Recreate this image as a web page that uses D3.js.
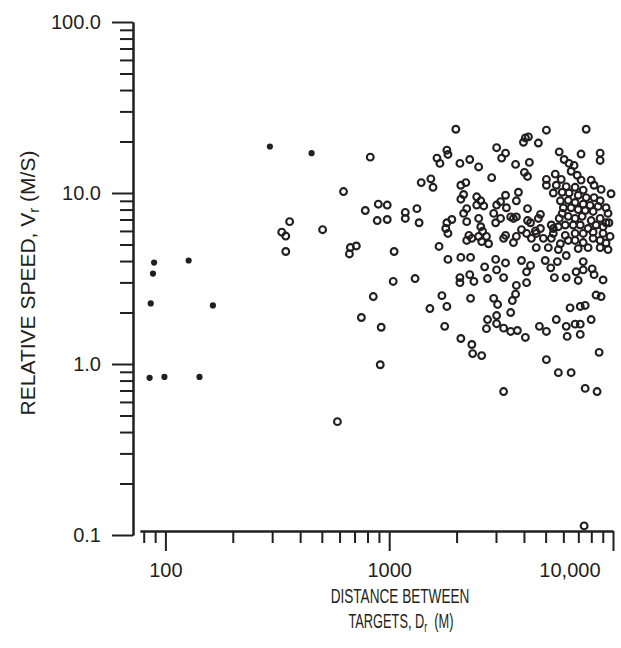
<!doctype html>
<html>
<head>
<meta charset="utf-8">
<title>Relative speed vs distance</title>
<script src="https://d3js.org/d3.v7.min.js"></script>
<style>
  body { margin: 0; background: #fff; }
  svg text { font-family: "Liberation Sans", Arial, sans-serif; fill: #231f20; }
</style>
</head>
<body>
<div id="chart"></div>
<script>
// distance between targets (m), relative speed (m/s)
// closed dots: short-range pairs
const closedPoints = [
  [85, 0.83], [99, 0.84], [142, 0.84], [86, 2.26], [88, 3.38], [89, 3.92],
  [127, 4.03], [163, 2.2], [293, 18.7], [450, 17.1]
];

// open circles, read left to right, top to bottom
const openNear = [
  [359, 6.8], [331, 5.9], [345, 5.6], [345, 4.55], [504, 6.1], [823, 16.2],
  [625, 10.2], [782, 7.9], [894, 8.6], [980, 8.5], [884, 6.9], [980, 7.0],
  [671, 4.8], [713, 4.9], [664, 4.4], [1052, 4.55], [1042, 3.04], [849, 2.48],
  [751, 1.87], [921, 1.64], [912, 0.99], [587, 0.46]
];

const openMidUpper = [
  [1985, 23.6], [3020, 18.4], [3310, 17.1], [3180, 16.0], [1810, 17.8], [1830, 16.8],
  [1635, 16.0], [1685, 14.9], [2070, 14.9], [2290, 15.7], [2510, 14.2], [2870, 12.3],
  [1390, 11.5], [1535, 12.1], [1570, 10.8], [2090, 11.1], [2200, 11.5], [2150, 9.8],
  [2090, 9.2], [2460, 9.5], [2565, 9.0], [2645, 8.4], [2460, 8.5], [3020, 8.5],
  [3145, 8.9], [3310, 9.7], [2220, 8.1], [2150, 7.6], [2220, 6.8], [2510, 7.1],
  [2930, 7.6], [3145, 7.1], [2990, 6.7], [1330, 8.1], [1180, 7.7], [1180, 7.1],
  [1360, 6.7], [1905, 7.0], [1810, 6.7], [1790, 6.2], [1830, 5.8], [2565, 6.35],
  [2615, 5.97], [2270, 5.65], [2340, 5.43], [2220, 5.28], [2510, 5.57], [2720, 5.57],
  [2590, 5.2], [2780, 5.05], [3245, 5.43], [3310, 5.65], [1670, 4.87]
];

const openFarUpper = [
  [5040, 23.3], [7590, 23.6], [4060, 21.0], [4190, 21.3], [3980, 19.8], [4640, 19.6],
  [5750, 17.4], [7200, 16.9], [8760, 17.1], [8760, 15.5], [3670, 14.7], [4230, 15.1],
  [4020, 13.2], [4150, 12.5], [6050, 15.7], [6360, 14.9], [6700, 14.5], [6500, 13.4],
  [6920, 12.7], [7200, 11.9], [5040, 12.0], [5520, 12.9], [5870, 12.0], [5040, 11.1],
  [5580, 11.1], [6180, 10.9], [6770, 10.8], [7360, 10.4], [7990, 11.9], [8230, 11.1],
  [8850, 10.5], [9800, 9.9], [5410, 10.0], [5930, 10.1], [6360, 10.0], [6990, 9.7],
  [7590, 9.4], [8230, 9.4], [8760, 9.0], [5820, 9.0], [6310, 9.06], [6770, 8.8],
  [7360, 8.6], [7900, 8.47], [8580, 8.35], [9310, 8.2], [6000, 8.2], [6500, 8.2],
  [6990, 8.0], [7510, 7.9], [8150, 7.8], [9500, 7.6], [5930, 7.6], [5750, 7.1],
  [6310, 7.3], [6770, 7.1], [7280, 7.3], [7990, 6.9], [8760, 7.1], [9310, 6.7],
  [8400, 6.5], [9030, 6.35], [9590, 6.7], [7140, 6.5], [6640, 6.5], [6120, 6.5],
  [5700, 6.35], [5300, 6.5], [4740, 7.5], [4640, 7.1], [4150, 8.1], [4150, 6.9],
  [3490, 7.25], [3590, 7.1], [3700, 7.25], [3340, 8.2], [3780, 10.1], [3700, 9.0],
  [4280, 6.7], [3900, 6.1], [4740, 6.2], [4540, 5.8], [4500, 6.0], [5410, 5.8],
  [5410, 6.2], [6120, 5.65], [6770, 5.8], [7360, 5.8], [7740, 6.2], [8150, 5.9],
  [9030, 5.8], [9700, 5.57], [8150, 5.43], [8760, 5.28], [9310, 5.1], [6310, 5.28],
  [6770, 5.28], [7360, 5.13], [5820, 5.05], [5300, 5.43], [4885, 5.43], [4320, 5.43],
  [4110, 5.8], [3700, 5.57], [3590, 5.13], [4540, 4.79], [5140, 4.79], [5700, 4.67],
  [6990, 4.73], [7740, 4.79], [8760, 4.79], [9500, 4.67]
];

const openMidLower = [
  [1830, 4.09], [2090, 4.2], [2310, 4.2], [2990, 4.09], [2670, 3.7], [3020, 3.55],
  [1305, 3.16], [2070, 3.2], [2070, 2.99], [2290, 3.33], [2390, 3.04], [2750, 3.16],
  [1720, 2.51], [1520, 2.11], [1810, 2.17], [2310, 2.42], [2930, 2.42], [3050, 2.23],
  [3020, 1.92], [2750, 1.82], [2720, 1.61], [3020, 1.72], [1770, 1.66], [2090, 1.41],
  [2340, 1.30], [2360, 1.15], [2590, 1.12], [3245, 0.69]
];

const openFarLower = [
  [6180, 4.31], [3310, 3.9], [3900, 4.03], [4280, 3.77], [4110, 3.46], [4980, 4.03],
  [5270, 3.65], [5640, 3.97], [5470, 3.2], [6180, 3.2], [6990, 3.08], [6840, 3.46],
  [7360, 3.55], [7360, 3.97], [8070, 3.6], [8230, 3.33], [9030, 3.1], [4110, 2.99],
  [3700, 2.88], [3670, 2.56], [3550, 2.35], [3490, 2.0], [3245, 3.2], [8400, 2.53],
  [8850, 2.48], [6430, 2.13], [7140, 2.17], [7510, 2.2], [5580, 1.82], [4690, 1.66],
  [5040, 1.55], [6180, 1.66], [6770, 1.71], [7140, 1.71], [7990, 1.82], [6240, 1.45],
  [7140, 1.49], [3245, 1.62], [3490, 1.55], [3740, 1.57], [4060, 1.43], [8670, 1.17],
  [5040, 1.06], [5700, 0.89], [6500, 0.89], [7510, 0.72], [8490, 0.69], [7430, 0.113]
];

const openPoints = openNear.concat(openMidUpper, openFarUpper, openMidLower, openFarLower);

// axis ticks
const yMajor = [0.1, 1, 10, 100];
const yLabels = ["0.1", "1.0", "10.0", "100.0"];
const xMajor = [100, 1000, 10000];
const xLabels = ["100", "1000", "10,000"];

var ink = "#231f20";
var svg = d3.select("#chart")
  .append("svg")
    .attr("width", 621)
    .attr("height", 648);

var x = d3.scaleLog().domain([77, 10000]).range([140, 613]);
var y = d3.scaleLog().domain([0.1, 100]).range([535, 22]);

// minor ticks are the log ticks that are not labelled
var yMinor = y.ticks().filter(function(d) { return yMajor.indexOf(+d.toPrecision(3)) < 0; });
var xMinor = x.ticks().filter(function(d) { return xMajor.indexOf(d) < 0; });

function styleAxis(g) {
  g.style("color", ink)
    .attr("font-size", 20)
    .attr("font-family", "Liberation Sans, Arial, sans-serif");
  g.selectAll("path, line").attr("stroke-width", 2);
}

// Y axis
svg.append("g")
  .attr("transform", "translate(133,0)")
  .call(d3.axisLeft(y).tickValues(yMinor).tickSize(13).tickSizeOuter(0).tickFormat(""))
  .call(styleAxis);
svg.append("g")
  .attr("transform", "translate(133,0)")
  .call(d3.axisLeft(y).tickValues(yMajor).tickSize(21).tickSizeOuter(0).tickPadding(11)
    .tickFormat(function(d, i) { return yLabels[i]; }))
  .call(styleAxis);

// X axis
svg.append("g")
  .attr("transform", "translate(0,531)")
  .call(d3.axisBottom(x).tickValues(xMinor).tickSize(12).tickSizeOuter(0).tickFormat(""))
  .call(styleAxis);
var xAxisMajor = svg.append("g")
  .attr("transform", "translate(0,531)")
  .call(d3.axisBottom(x).tickValues(xMajor).tickSize(20).tickSizeOuter(0).tickPadding(12)
    .tickFormat(function(d, i) { return xLabels[i]; }))
  .call(styleAxis);
// last label sits inside the page
xAxisMajor.selectAll(".tick text")
  .filter(function(d) { return d === 10000; })
  .attr("text-anchor", "end")
  .attr("dx", -13);

// open circles
svg.append("g")
  .selectAll("circle")
  .data(openPoints)
  .join("circle")
    .attr("cx", function(d) { return x(d[0]); })
    .attr("cy", function(d) { return y(d[1]); })
    .attr("r", 3.4)
    .attr("fill", "none")
    .attr("stroke", ink)
    .attr("stroke-width", 2.1);

// closed dots
svg.append("g")
  .selectAll("circle")
  .data(closedPoints)
  .join("circle")
    .attr("cx", function(d) { return x(d[0]); })
    .attr("cy", function(d) { return y(d[1]); })
    .attr("r", 3.1)
    .attr("fill", ink);

// y title
var yTitle = svg.append("text")
  .attr("transform", "translate(35,283) rotate(-90)")
  .attr("text-anchor", "middle")
  .attr("font-size", 21);
yTitle.append("tspan").text("RELATIVE SPEED, V");
yTitle.append("tspan").attr("font-size", 15).attr("dy", 4).text("r");
yTitle.append("tspan").attr("dy", -4).text(" (M/S)");

// x title, two lines, narrow lettering
svg.append("g")
  .attr("transform", "translate(400,603) scale(0.68,1)")
  .append("text")
    .attr("text-anchor", "middle")
    .attr("font-size", 20)
    .text("DISTANCE BETWEEN");
var xTitle2 = svg.append("g")
  .attr("transform", "translate(401,628) scale(0.64,1)")
  .append("text")
    .attr("text-anchor", "middle")
    .attr("font-size", 20);
xTitle2.append("tspan").text("TARGETS, D");
xTitle2.append("tspan").attr("font-size", 14).attr("dy", 4).text("r");
xTitle2.append("tspan").attr("dy", -4).text("\u00a0\u00a0(M)");
</script>
</body>
</html>
